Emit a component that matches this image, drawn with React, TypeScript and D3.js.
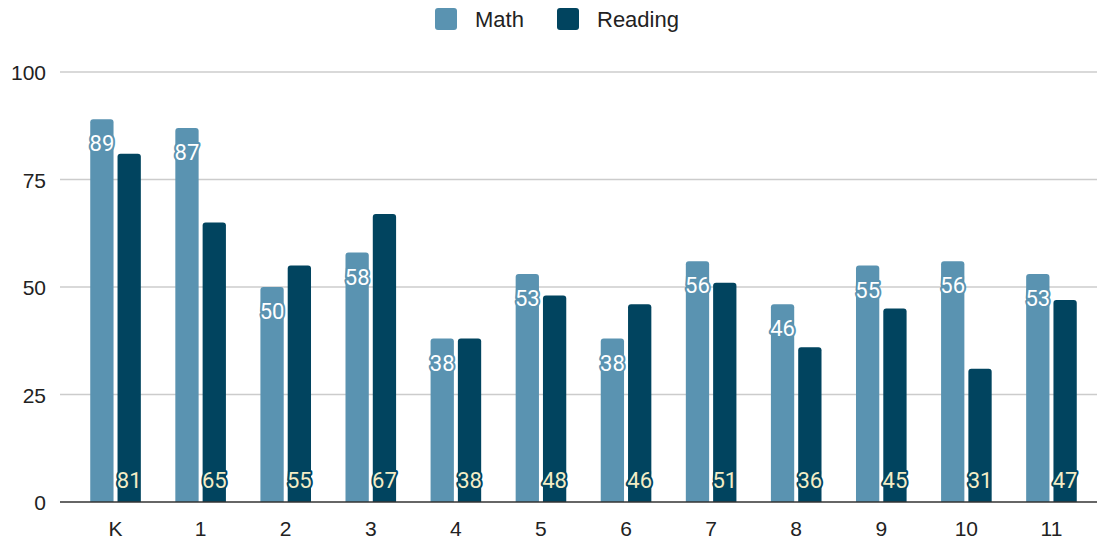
import React from "react";
import * as d3 from "d3";

const categories = ["K", "1", "2", "3", "4", "5", "6", "7", "8", "9", "10", "11"];
const mathValues = [89, 87, 50, 58, 38, 53, 38, 56, 46, 55, 56, 53];
const readingValues = [81, 65, 55, 67, 38, 48, 46, 51, 36, 45, 31, 47];
const seriesNames = ["Math", "Reading"];
const yTicks = [0, 25, 50, 75, 100];

const W = 1097;
const H = 541;
const MATH = "#5a93b1";
const READ = "#01445f";
const FONT = "Arial, 'Liberation Sans', sans-serif";
const LABEL_FONT = "Roboto, 'Noto Sans', Arial, sans-serif";

function topRoundedRect(x: number, y: number, w: number, h: number, r: number) {
  const rr = Math.min(r, h / 2, w / 2);
  return `M${x},${y + h} L${x},${y + rr} Q${x},${y} ${x + rr},${y} L${x + w - rr},${y} Q${x + w},${y} ${x + w},${y + rr} L${x + w},${y + h} Z`;
}

export default function App() {
  const x = d3.scaleBand<string>().domain(categories).range([73, 1094]).paddingInner(0).paddingOuter(0);
  const y = d3.scaleLinear().domain([0, 100]).range([502, 72]);
  const barW = 23.3;
  const gap = 4;

  return (
    <svg width={W} height={H} style={{ position: "absolute", left: 0, top: 0, background: "#fff" }} fontFamily={FONT}>
      {/* legend */}
      <g>
        <rect x={435} y={8} width={22} height={22} rx={3} fill={MATH} />
        <text x={475} y={27} fontSize={22} fill="#222">{seriesNames[0]}</text>
        <rect x={557} y={8} width={22} height={22} rx={3} fill={READ} />
        <text x={597} y={27} fontSize={22} fill="#222">{seriesNames[1]}</text>
      </g>
      {/* gridlines */}
      {yTicks.map((t) => (
        <g key={t}>
          {t !== 0 && <line x1={60} x2={1097} y1={y(t)} y2={y(t)} stroke="#cccccc" strokeWidth={1.5} />}
          <text x={46} y={y(t) + 8} fontSize={21} textAnchor="end" fill="#222">{t}</text>
        </g>
      ))}
      {/* bars */}
      {categories.map((c, i) => {
        const cx = (x(c) as number) + x.bandwidth() / 2;
        const mx = cx - gap / 2 - barW;
        const rx = cx + gap / 2;
        const my = y(mathValues[i]);
        const ry = y(readingValues[i]);
        return (
          <g key={c}>
            <path d={topRoundedRect(mx, my, barW, y(0) - my, 3)} fill={MATH} />
            <path d={topRoundedRect(rx, ry, barW, y(0) - ry, 3)} fill={READ} />
          </g>
        );
      })}
      {/* zero axis */}
      <line x1={60} x2={1097} y1={y(0)} y2={y(0)} stroke="#333" strokeWidth={1.5} />
      {/* labels */}
      {categories.map((c, i) => {
        const cx = (x(c) as number) + x.bandwidth() / 2;
        const mcx = cx - gap / 2 - barW / 2;
        const rcx = cx + gap / 2 + barW / 2;
        const my = y(mathValues[i]);
        return (
          <g key={"l" + c}>
            <text x={mcx} y={my + 32} fontFamily={LABEL_FONT} fontSize={22} textAnchor="middle" fill="#fff" stroke={MATH} strokeWidth={4} paintOrder="stroke" strokeLinejoin="round">
              {mathValues[i]}
            </text>
            <text x={rcx} y={488} fontFamily={LABEL_FONT} fontSize={22} textAnchor="middle" fill="#f4edc6" stroke={READ} strokeWidth={4} paintOrder="stroke" strokeLinejoin="round">
              {readingValues[i]}
            </text>
            <text x={cx} y={536} fontSize={21} textAnchor="middle" fill="#222">{c}</text>
          </g>
        );
      })}
    </svg>
  );
}
